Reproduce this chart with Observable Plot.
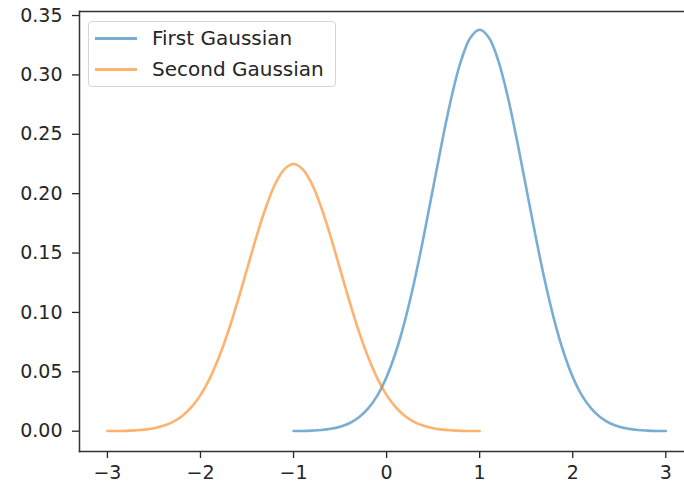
<!DOCTYPE html>
<html>
<head>
<meta charset="utf-8">
<script src="https://cdn.jsdelivr.net/npm/d3@7"></script>
<script src="https://cdn.jsdelivr.net/npm/@observablehq/plot@0.6"></script>
<style>
  body { margin: 0; background: #fff; }
  #wrap { position: relative; width: 684px; height: 483px; overflow: hidden; }
  .legend { position: absolute; left: 88px; top: 21px; width: 246px; height: 64px;
    border: 1px solid #d6d6d6; border-radius: 4px; background: rgba(255,255,255,0.8);
    font-family: "DejaVu Sans", sans-serif; font-size: 20px; color: #262626; }
  .row { position: absolute; left: 0; height: 24px; }
  .swatch { position: absolute; left: 6px; width: 42px; height: 3px; }
  .lab { position: absolute; left: 63px; white-space: nowrap; line-height: 1; }
</style>
</head>
<body>
<div id="wrap"></div>
<script>
// Series names and colours
const seriesNames = ["First Gaussian", "Second Gaussian"];
const seriesColors = ["#1f77b4", "#ff7f0e"];

// First Gaussian (x from -1 to 3)
const firstX = [-1, -0.9, -0.8, -0.7, -0.6, -0.5, -0.4, -0.3, -0.2, -0.1, 0,
  0.1, 0.2, 0.3, 0.4, 0.5, 0.6, 0.7, 0.8, 0.9, 1,
  1.1, 1.2, 1.3, 1.4, 1.5, 1.6, 1.7, 1.8, 1.9, 2,
  2.1, 2.2, 2.3, 2.4, 2.5, 2.6, 2.7, 2.8, 2.9, 3];
const firstY = [0.0001, 0.0002, 0.0005, 0.0010, 0.0020, 0.0038, 0.0067, 0.0115, 0.0190, 0.0300, 0.0457,
  0.0669, 0.0940, 0.1269, 0.1645, 0.2050, 0.2454, 0.2823, 0.3120, 0.3313, 0.3380,
  0.3313, 0.3120, 0.2823, 0.2454, 0.2050, 0.1645, 0.1269, 0.0940, 0.0669, 0.0457,
  0.0300, 0.0190, 0.0115, 0.0067, 0.0038, 0.0020, 0.0010, 0.0005, 0.0002, 0.0001];

// Second Gaussian (x from -3 to 1)
const secondX = [-3, -2.9, -2.8, -2.7, -2.6, -2.5, -2.4, -2.3, -2.2, -2.1, -2,
  -1.9, -1.8, -1.7, -1.6, -1.5, -1.4, -1.3, -1.2, -1.1, -1,
  -0.9, -0.8, -0.7, -0.6, -0.5, -0.4, -0.3, -0.2, -0.1, 0,
  0.1, 0.2, 0.3, 0.4, 0.5, 0.6, 0.7, 0.8, 0.9, 1];
const secondY = [0.0001, 0.0002, 0.0003, 0.0007, 0.0013, 0.0025, 0.0045, 0.0077, 0.0126, 0.0200, 0.0304,
  0.0445, 0.0626, 0.0844, 0.1095, 0.1365, 0.1634, 0.1879, 0.2077, 0.2205, 0.2250,
  0.2205, 0.2077, 0.1879, 0.1634, 0.1365, 0.1095, 0.0844, 0.0626, 0.0445, 0.0304,
  0.0200, 0.0126, 0.0077, 0.0045, 0.0025, 0.0013, 0.0007, 0.0003, 0.0002, 0.0001];

// Tick values
const xTicks = [-3, -2, -1, 0, 1, 2, 3];
const yTicks = [0, 0.05, 0.10, 0.15, 0.20, 0.25, 0.30, 0.35];

const data = [
  ...firstX.map((x, i) => ({x, y: firstY[i], series: seriesNames[0]})),
  ...secondX.map((x, i) => ({x, y: secondY[i], series: seriesNames[1]}))
];

const chart = Plot.plot({
  width: 684,
  height: 483,
  marginLeft: 79,
  marginRight: 0,
  marginTop: 11,
  marginBottom: 32,
  style: { fontFamily: "DejaVu Sans, sans-serif", fontSize: "19px", color: "#262626", background: "white" },
  x: { domain: [-3.3, 3.201] },
  y: { domain: [-0.0171, 0.3534] },
  color: { domain: seriesNames, range: seriesColors },
  marks: [
    Plot.line(data, { x: "x", y: "y", z: "series", stroke: "series", strokeWidth: 2.6, strokeOpacity: 0.6, curve: "catmull-rom" }),
    Plot.axisX({ ticks: xTicks, tickFormat: "d", tickSize: 7, tickPadding: 7, label: null, strokeWidth: 1.3 }),
    Plot.axisY({ ticks: yTicks, tickFormat: ".2f", tickSize: 7, tickPadding: 10, label: null, strokeWidth: 1.3 }),
    Plot.frame({ anchor: "left", stroke: "#333", strokeWidth: 1.5 }),
    Plot.frame({ anchor: "bottom", stroke: "#333", strokeWidth: 1.5 }),
    Plot.frame({ anchor: "top", stroke: "#333", strokeWidth: 1.5 })
  ]
});

const wrap = document.getElementById("wrap");
wrap.appendChild(chart);

// Legend
const legend = document.createElement("div");
legend.className = "legend";
seriesNames.forEach((name, i) => {
  const row = document.createElement("div");
  row.className = "row";
  row.style.top = (4 + i * 31) + "px";
  const sw = document.createElement("div");
  sw.className = "swatch";
  sw.style.background = seriesColors[i];
  sw.style.opacity = 0.6;
  sw.style.top = "11px";
  const lab = document.createElement("div");
  lab.className = "lab";
  lab.style.top = "2px";
  lab.textContent = name;
  row.appendChild(sw);
  row.appendChild(lab);
  legend.appendChild(row);
});
wrap.appendChild(legend);
</script>
</body>
</html>
